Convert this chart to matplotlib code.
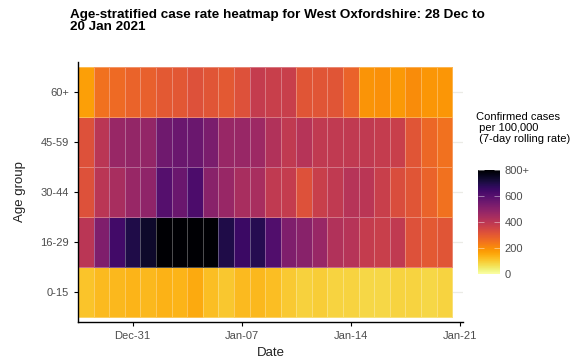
import numpy as np
import pandas as pd
import matplotlib
matplotlib.use("Agg")
import matplotlib.pyplot as plt
import matplotlib.dates as mdates

plt.rcParams["font.family"] = ["Liberation Sans", "DejaVu Sans"]

dates = pd.date_range("2020-12-28", "2021-01-20", freq="D")
age_groups = ["0-15", "16-29", "30-44", "45-59", "60+"]

# 7-day rolling case rate per 100,000, one list per age group (Dec 28 -> Jan 20)
rate_0_15 = [110, 125, 130, 135, 130, 140, 135, 150, 120, 105, 125, 130,
             120, 100, 90, 95, 85, 85, 80, 80, 85, 85, 80, 85]
rate_16_29 = [400, 520, 640, 700, 740, 820, 840, 830, 820, 700, 650, 690,
              610, 520, 500, 470, 420, 410, 380, 370, 390, 320, 300, 310]
rate_30_44 = [320, 400, 440, 470, 490, 600, 560, 620, 500, 470, 440, 440,
              390, 380, 320, 370, 390, 410, 400, 370, 330, 310, 280, 250]
rate_45_59 = [320, 400, 470, 480, 480, 550, 560, 560, 530, 470, 470, 460,
              420, 390, 410, 390, 390, 390, 390, 380, 370, 310, 270, 250]
rate_60plus = [170, 250, 265, 280, 285, 300, 305, 320, 310, 300, 320, 380,
               370, 370, 310, 310, 310, 280, 190, 195, 180, 200, 185, 185]

rates = np.array([rate_0_15, rate_16_29, rate_30_44, rate_45_59, rate_60plus])

fig = plt.figure(figsize=(5.84, 3.62), dpi=100)
ax = fig.add_axes([0.1336, 0.1105, 0.6594, 0.7182])

x0 = mdates.date2num(dates[0])
x_edges = mdates.date2num(dates) - 0.5
x_edges = np.append(x_edges, x_edges[-1] + 1)
y_edges = np.arange(len(age_groups) + 1) - 0.5

mesh = ax.pcolormesh(x_edges, y_edges, rates, cmap="inferno_r", vmin=0, vmax=800,
                     edgecolors=(1, 1, 1, 0.3), linewidth=0.6)

ax.set_xlim(x0 - 0.5, x0 + 24.2)
ax.set_ylim(-0.6, 4.6)
ax.set_yticks(range(len(age_groups)))
ax.set_yticklabels(age_groups)
ax.set_xticks([mdates.date2num(pd.Timestamp(d)) for d in
               ["2020-12-31", "2021-01-07", "2021-01-14", "2021-01-21"]])
ax.xaxis.set_major_formatter(mdates.DateFormatter("%b-%d"))

ax.grid(True, axis="y", color="#ebebe6", linewidth=0.9)
ax.set_axisbelow(True)
for s in ["top", "right"]:
    ax.spines[s].set_visible(False)
for s in ["left", "bottom"]:
    ax.spines[s].set_linewidth(1.0)
ax.tick_params(labelsize=8, labelcolor="#4d4d4d", length=3, width=0.8)

ax.set_xlabel("Date", fontsize=9.5, color="#222222")
ax.set_ylabel("Age group", fontsize=9.5, color="#222222", labelpad=10)

fig.text(0.12, 0.975, "Age-stratified case rate heatmap for West Oxfordshire: 28 Dec to\n20 Jan 2021",
         fontsize=9.7, fontweight="bold", ha="left", va="top", linespacing=0.95)

cax = fig.add_axes([0.8185, 0.243, 0.0375, 0.287])
cb = fig.colorbar(mesh, cax=cax)
cb.set_ticks([0, 200, 400, 600, 800])
cb.set_ticklabels(["0", "200", "400", "600", "800+"])
cb.outline.set_visible(False)
cb.ax.tick_params(labelsize=8, labelcolor="#4d4d4d", length=4, direction="in",
                  color=(1, 1, 1, 0.5), left=True, right=True, width=0.6)
fig.text(0.815, 0.69, "Confirmed cases\n per 100,000\n (7-day rolling rate)",
         fontsize=8, ha="left", va="top", linespacing=1.1)

fig.savefig("out.png", dpi=100)
